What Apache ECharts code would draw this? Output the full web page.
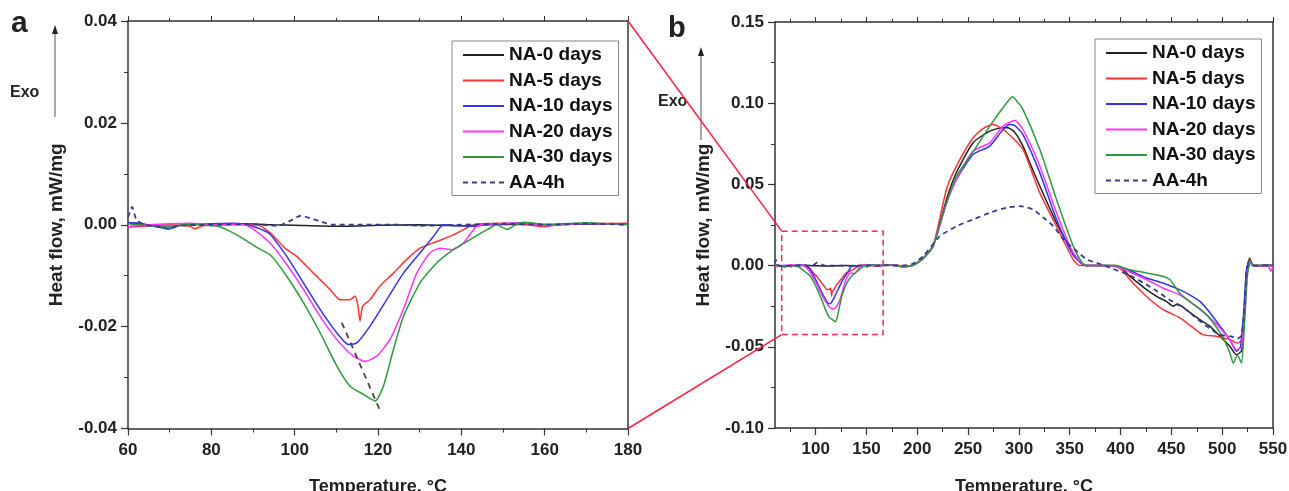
<!DOCTYPE html>
<html>
<head>
<meta charset="utf-8">
<script src="https://cdn.jsdelivr.net/npm/echarts@6/dist/echarts.min.js"></script>
<style>
html,body{margin:0;padding:0;background:#fff;}
#c{width:1289px;height:491px;}
</style>
</head>
<body>
<div id="c"></div>
<script>
// ---------- DATA ----------
var seriesNames = ['NA-0 days','NA-5 days','NA-10 days','NA-20 days','NA-30 days','AA-4h'];
var xTicksA = [60,80,100,120,140,160,180];
var yTicksA = [-0.04,-0.02,0.00,0.02,0.04];
var xLabelsB = [100,150,200,250,300,350,400,450,500,550];
var xMinorB = [75,125,175,225,275,325,375,425,475,525];
var yTicksB = [-0.10,-0.05,0.00,0.05,0.10,0.15];

// Panel a (60-180 °C): [temperature, heat flow]
var na0Low = [[60,0.0004],[62,0.0003],[65,-0.0002],[70,-0.0004],[75,0.0001],[80,0],[88,0.0002],[95,0],[100,-0.0001],[110,-0.0003],[120,-0.0001],[130,0],[140,-0.0002],[150,0.0001],[160,0],[170,0.0002],[180,0.0001]];
var na5Low = [[60,-0.0005],[65,-0.0002],[70,0],[75,-0.0003],[76,-0.0008],[78,-0.0002],[85,0],[91,0],[94,-0.0015],[96.5,-0.0036],[98,-0.0048],[100.5,-0.0062],[104.5,-0.0095],[108.5,-0.0127],[110.9,-0.0147],[113.3,-0.0147],[114.5,-0.014],[115.2,-0.016],[115.7,-0.0189],[116.3,-0.016],[118.1,-0.0147],[120.5,-0.012],[123.7,-0.0095],[126.9,-0.0068],[130.1,-0.0046],[134.1,-0.0033],[138.1,-0.002],[142.1,-0.0003],[145,0.0002],[150,0.0003],[155,0.0001],[160,-0.0004],[162,-0.0001],[170,0.0002],[180,0.0003]];
var na10Low = [[60,0.0004],[63,0.0003],[66,-0.0003],[70,-0.0008],[72,-0.0002],[80,0.0002],[85,0.0003],[88,0.0001],[91,-0.0006],[94,-0.0018],[98.1,-0.0062],[102.1,-0.0114],[106.1,-0.0166],[110.1,-0.0212],[112.9,-0.0235],[114.9,-0.0232],[118.1,-0.0199],[122.1,-0.0147],[126.1,-0.0095],[130.1,-0.0055],[133.3,-0.0023],[135.7,0],[140,-0.0002],[143,-0.0003],[146,0],[150,0.0002],[155,0.0004],[160,0],[170,0.0002],[180,0.0002]];
var na20Low = [[60,-0.0003],[65,0],[70,0.0002],[75,0.0003],[80,0],[85,0.0001],[88,0],[90,-0.0008],[94.1,-0.0036],[98.1,-0.0078],[102.1,-0.0127],[106.1,-0.018],[110.1,-0.0225],[114.1,-0.0258],[116.9,-0.0268],[119.7,-0.0258],[122.9,-0.0225],[126.1,-0.0166],[129.3,-0.0095],[132.5,-0.0055],[134.9,-0.0046],[137.7,-0.0049],[140.5,-0.0036],[143.7,-0.0003],[148,0.0002],[155,0.0003],[160,-0.0002],[170,0.0003],[180,0]];
var na30Low = [[60,0.0002],[65,-0.0002],[70,-0.0003],[75,0.0001],[80,-0.0002],[82,-0.0004],[85,-0.0015],[88,-0.0029],[91,-0.0045],[94.1,-0.0059],[98.1,-0.0101],[102.1,-0.0153],[106.1,-0.0212],[110.1,-0.0277],[113.3,-0.0317],[116.5,-0.0333],[119.3,-0.0346],[121.3,-0.0317],[123.7,-0.0245],[126.1,-0.018],[130.1,-0.0114],[134.1,-0.0075],[138.1,-0.0049],[142.1,-0.0029],[146.1,-0.001],[148.5,0],[151,-0.0009],[153,0],[155,0.0005],[160,0.0001],[165,0.0002],[170,0.0004],[175,0.0002],[180,0.0001]];
var aaLow = [[60,0.0015],[61,0.0035],[62,0.001],[64,0],[67,-0.0003],[70,-0.0008],[72,-0.0002],[80,0],[90,0.0001],[96,-0.0002],[99,0.0008],[101.5,0.0018],[104,0.0012],[106,0.0007],[109,0],[115,0],[125,0],[130,-0.0002],[140,0],[150,0.0002],[160,0],[170,0.0002],[180,0]];
var peakShift = [[111.3,-0.0192],[120.5,-0.0365]];

// Panel b (above 180 °C)
var na0High = [[185,-0.0005],[195,0],[205,0.004],[215.5,0.012],[228.7,0.0407],[238.5,0.0573],[254.9,0.0756],[271.3,0.0828],[284.4,0.085],[289.4,0.0849],[296,0.082],[304,0.0736],[310.7,0.0633],[320.6,0.0489],[337,0.0263],[353.4,0.0078],[362,0.001],[366.5,0],[380,0],[395,0],[402,-0.002],[409,-0.0066],[417,-0.0105],[425.6,-0.0148],[435.5,-0.019],[445,-0.022],[452,-0.025],[455,-0.024],[460,-0.025],[468.4,-0.029],[478,-0.0333],[488,-0.0374],[498,-0.0436],[507.6,-0.0497],[514,-0.0549],[519,-0.0525],[522,-0.03],[524,-0.004],[527,0.0047],[530,0.0005],[535,0],[545,0.0003],[550,0]];
var na5High = [[185,-0.0005],[195,0],[205,0.004],[215.5,0.012],[228.7,0.0469],[238.5,0.0612],[254.9,0.0787],[265,0.0845],[274.6,0.0869],[284.4,0.0838],[295,0.078],[304,0.0715],[310.7,0.0612],[320.6,0.0448],[337,0.0242],[353.4,0.0037],[360,0],[380,0],[395,-0.0005],[402,-0.003],[409,-0.0086],[425.6,-0.019],[441.6,-0.027],[458,-0.032],[471,-0.038],[481,-0.0425],[494.6,-0.0436],[507.6,-0.0456],[515,-0.0477],[519,-0.046],[522,-0.03],[524,-0.004],[527,0.004],[530,0],[540,-0.0003],[550,0]];
var na10High = [[185,-0.0005],[195,0],[205,0.004],[215.5,0.012],[228.7,0.0388],[238.5,0.053],[254.9,0.0684],[271.3,0.0736],[284.4,0.0838],[291,0.0869],[296,0.0862],[304,0.0807],[320.6,0.0571],[337,0.0284],[353.4,0.0065],[366,0],[380,0],[398,-0.0005],[409,-0.003],[425.6,-0.0076],[441.6,-0.0107],[458,-0.0148],[468,-0.018],[478,-0.022],[488,-0.029],[498,-0.0374],[507.6,-0.0456],[514,-0.0528],[518,-0.05],[521,-0.03],[524,-0.002],[527,0.003],[530,0],[550,0]];
var na20High = [[185,-0.0005],[195,0],[205,0.004],[215.5,0.012],[228.7,0.038],[238.5,0.053],[254.9,0.0705],[271.3,0.0756],[284.4,0.0859],[296,0.0894],[304,0.0838],[320.6,0.0612],[337,0.0325],[353.4,0.0078],[366,0],[380,0],[398,-0.001],[409,-0.004],[425.6,-0.0086],[441.6,-0.0138],[458,-0.018],[474,-0.025],[491,-0.034],[507.6,-0.0456],[514,-0.0518],[519,-0.05],[522,-0.03],[525,-0.003],[528,0.002],[531,0],[545,-0.0005],[548,-0.0035],[550,0]];
var na30High = [[185,-0.001],[195,0],[205,0.004],[215.5,0.012],[228.7,0.0388],[238.5,0.055],[254.9,0.07],[271.3,0.0859],[284.4,0.0972],[293.7,0.104],[299,0.1005],[304,0.0962],[320.6,0.0715],[337,0.0407],[353.4,0.012],[362,0.002],[366.5,0],[395,0],[409,-0.0025],[425.6,-0.0045],[441.6,-0.0066],[448.5,-0.0086],[458,-0.0168],[468,-0.022],[481,-0.028],[491,-0.035],[501,-0.0445],[507.6,-0.0538],[511,-0.06],[515,-0.055],[519,-0.06],[522,-0.035],[525,-0.005],[528,0.003],[531,0],[550,0]];
var aaHigh = [[185,0],[195,0.001],[205.7,0.0057],[222,0.018],[238.5,0.0242],[254.9,0.0284],[271.3,0.0325],[287.7,0.0356],[301,0.0366],[314,0.0345],[324,0.0296],[334,0.0242],[344,0.016],[357,0.0088],[367,0.0037],[380,0.001],[392.5,-0.002],[409,-0.006],[425.6,-0.0117],[436,-0.0158],[448,-0.021],[460,-0.025],[472,-0.031],[485,-0.0374],[497,-0.0425],[509,-0.0436],[515,-0.045],[519,-0.043],[522,-0.025],[525,0],[530,0],[550,0]];

// zoom box in panel b (temperature, heat flow)
var zoomBox = [[66.6,0.0212],[166.4,-0.0425]];

// ---------- STYLE ----------
var colors = ['#222222','#ff3333','#3333ee','#ff33ff','#2e9a3e','#3a3a8c'];
var FONT = '"Liberation Sans", Arial, sans-serif';
var AXC = '#333';

var lowSets = [na0Low,na5Low,na10Low,na20Low,na30Low,aaLow];
var highSets = [na0High,na5High,na10High,na20High,na30High,aaHigh];

function fmt(v){ return (Math.abs(v) < 1e-9 ? 0 : v).toFixed(2); }

var labelStyle = {fontFamily: FONT, fontWeight: 'bold', fontSize: 17, color: '#222'};
var nameStyle = {fontFamily: FONT, fontWeight: 'bold', fontSize: 19, color: '#222'};
var xNameStyle = {fontFamily: FONT, fontWeight: 'bold', fontSize: 18, color: '#222'};

function baseAxis(extra){
  var o = {
    type: 'value',
    splitLine: {show: false},
    minorSplitLine: {show: false},
    axisLine: {show: true, onZero: false, lineStyle: {color: AXC, width: 1.5}},
    axisTick: {show: true, inside: false, length: 7, lineStyle: {color: AXC, width: 1.2}},
    minorTick: {show: true, splitNumber: 2, length: 4, lineStyle: {color: AXC, width: 1}},
    axisLabel: Object.assign({show: true, margin: 10}, labelStyle)
  };
  return Object.assign(o, extra);
}
var hiddenLine = {show: false, onZero: false};

var xAxes = [
  baseAxis({gridIndex: 0, position: 'bottom', min: 60, max: 180, interval: 20,
    axisLabel: Object.assign({margin: 13}, labelStyle),
    name: 'Temperature, °C', nameLocation: 'middle', nameGap: 50, nameTextStyle: xNameStyle}),
  baseAxis({gridIndex: 0, position: 'top', min: 60, max: 180, interval: 20, axisLabel: {show: false},
    axisTick: {show: true, length: 5, lineStyle: {color: AXC}}, minorTick: {show: true, splitNumber: 2, length: 3, lineStyle: {color: AXC}}}),
  baseAxis({gridIndex: 1, position: 'bottom', min: 60, max: 550,
    axisLabel: Object.assign({margin: 13, customValues: xLabelsB}, labelStyle),
    axisTick: {show: true, length: 7, customValues: xLabelsB, lineStyle: {color: AXC, width: 1.2}},
    minorTick: {show: false},
    name: 'Temperature, °C', nameLocation: 'middle', nameGap: 50, nameTextStyle: xNameStyle}),
  baseAxis({gridIndex: 1, position: 'top', min: 60, max: 550, axisLabel: {show: false},
    axisTick: {show: true, length: 5, customValues: xLabelsB, lineStyle: {color: AXC}}, minorTick: {show: false}}),
  baseAxis({gridIndex: 1, position: 'bottom', min: 60, max: 550, axisLine: hiddenLine, axisLabel: {show: false},
    axisTick: {show: true, length: 4, customValues: xMinorB, lineStyle: {color: AXC}}, minorTick: {show: false}}),
  baseAxis({gridIndex: 1, position: 'top', min: 60, max: 550, axisLine: hiddenLine, axisLabel: {show: false},
    axisTick: {show: true, length: 3, customValues: xMinorB, lineStyle: {color: AXC}}, minorTick: {show: false}})
];

var yAxes = [
  baseAxis({gridIndex: 0, position: 'left', min: -0.04, max: 0.04, interval: 0.02,
    axisLabel: Object.assign({margin: 11, formatter: fmt}, labelStyle),
    name: 'Heat flow, mW/mg', nameLocation: 'middle', nameGap: 62, nameTextStyle: nameStyle}),
  baseAxis({gridIndex: 0, position: 'right', min: -0.04, max: 0.04, interval: 0.02, axisTick: {show: false}, minorTick: {show: false}, axisLabel: {show: false}}),
  baseAxis({gridIndex: 1, position: 'left', min: -0.10, max: 0.15, interval: 0.05,
    axisLabel: Object.assign({margin: 11, formatter: fmt}, labelStyle),
    name: 'Heat flow, mW/mg', nameLocation: 'middle', nameGap: 62, nameTextStyle: nameStyle}),
  baseAxis({gridIndex: 1, position: 'right', min: -0.10, max: 0.15, interval: 0.05, axisTick: {show: false}, minorTick: {show: false}, axisLabel: {show: false}})
];

var series = [];
seriesNames.forEach(function(n, i){
  var dashed = (n === 'AA-4h');
  var ls = {color: colors[i], width: dashed ? 1.8 : 1.5, type: dashed ? [5, 4] : 'solid'};
  series.push({name: n, type: 'line', xAxisIndex: 0, yAxisIndex: 0, data: lowSets[i],
    symbol: 'none', showSymbol: false, smooth: 0.2, lineStyle: ls, itemStyle: {color: colors[i]}, z: dashed ? 3 : 2, animation: false});
  var s = {name: n, type: 'line', xAxisIndex: 2, yAxisIndex: 2, data: lowSets[i].concat(highSets[i]),
    symbol: 'none', showSymbol: false, smooth: 0.2, lineStyle: ls, itemStyle: {color: colors[i]}, z: dashed ? 3 : 2, animation: false};
  if (i === 0) {
    s.markArea = {silent: true,
      itemStyle: {color: 'rgba(0,0,0,0)', borderColor: '#ff2a4a', borderWidth: 1.5, borderType: [6, 4]},
      data: [[{coord: zoomBox[0]}, {coord: zoomBox[1]}]]};
  }
  series.push(s);
});
series.push({name: 'peak shift', type: 'line', xAxisIndex: 0, yAxisIndex: 0, data: peakShift,
  symbol: 'none', lineStyle: {color: '#444', width: 1.8, type: [6, 5]}, z: 4, animation: false});

function legendOpt(left, top){
  return {
    left: left, top: top, orient: 'vertical',
    data: seriesNames,
    itemWidth: 41, itemHeight: 14, itemGap: 5.5,
    padding: [4, 6, 3, 10],
    borderColor: '#888', borderWidth: 1, backgroundColor: '#fff',
    selectedMode: false,
    itemStyle: {opacity: 0},
    textStyle: {fontFamily: FONT, fontWeight: 'bold', fontSize: 19, color: '#111', lineHeight: 20}
  };
}

var chart = echarts.init(document.getElementById('c'), null, {renderer: 'canvas'});
chart.setOption({
  animation: false,
  backgroundColor: '#fff',
  grid: [
    {left: 128, right: 661, top: 21, bottom: 62.5, containLabel: false, outerBoundsMode: 'none'},
    {left: 775, right: 16, top: 22, bottom: 63, containLabel: false, outerBoundsMode: 'none'}
  ],
  xAxis: xAxes,
  yAxis: yAxes,
  legend: [legendOpt(452, 41), legendOpt(1095, 39)],
  series: series
});

// annotations: connector lines computed through the axes
var aTop = chart.convertToPixel({xAxisIndex: 0, yAxisIndex: 0}, [180, 0.04]);
var aBot = chart.convertToPixel({xAxisIndex: 0, yAxisIndex: 0}, [180, -0.04]);
var bTL = chart.convertToPixel({xAxisIndex: 2, yAxisIndex: 2}, zoomBox[0]);
var bBL = chart.convertToPixel({xAxisIndex: 2, yAxisIndex: 2}, [zoomBox[0][0], zoomBox[1][1]]);

function arrow(x, y1, y2){
  return [
    {type: 'line', shape: {x1: x, y1: y2, x2: x, y2: y1 + 6}, style: {stroke: '#555', lineWidth: 1}},
    {type: 'polygon', shape: {points: [[x, y1], [x - 3, y1 + 9], [x + 3, y1 + 9]]}, style: {fill: '#222'}}
  ];
}
var txt = function(x, y, s, size){
  return {type: 'text', x: x, y: y, style: {text: s, fontFamily: FONT, fontWeight: 'bold', fontSize: size, fill: '#222', textVerticalAlign: 'middle'}};
};
chart.setOption({
  graphic: [
    txt(11, 24, 'a', 30),
    txt(668, 29, 'b', 29),
    txt(10, 93, 'Exo', 16),
    txt(658, 102, 'Exo', 16)
  ].concat(arrow(55, 25, 117)).concat(arrow(701, 47, 140)).concat([
    {type: 'line', shape: {x1: aTop[0], y1: aTop[1], x2: bTL[0], y2: bTL[1]}, style: {stroke: '#ff2040', lineWidth: 1.5}, z: 10},
    {type: 'line', shape: {x1: aBot[0], y1: aBot[1], x2: bBL[0], y2: bBL[1]}, style: {stroke: '#ff2040', lineWidth: 1.5}, z: 10}
  ])
});
</script>
</body>
</html>
